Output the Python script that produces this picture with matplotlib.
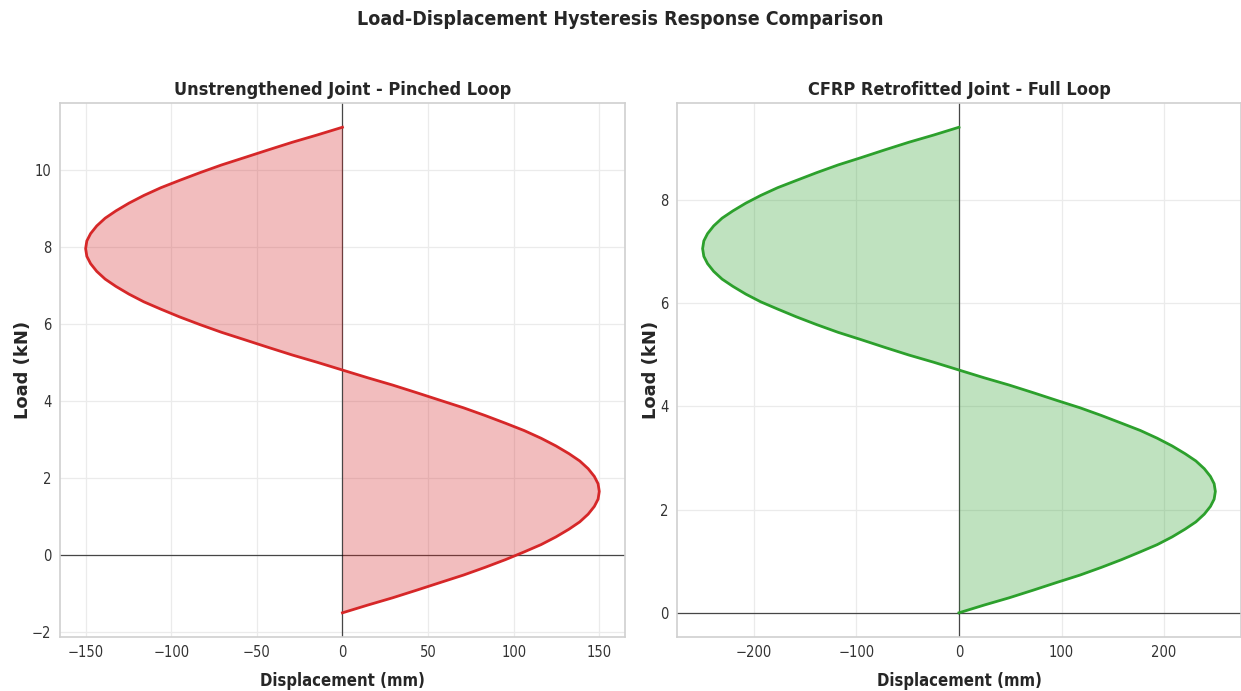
import matplotlib.pyplot as plt

# Unstrengthened joint: load (kN) vs displacement (mm)
load_unstr = [-1.50, -1.30, -1.11, -0.91, -0.71, -0.52, -0.32, -0.12,
              0.08, 0.27, 0.47, 0.67, 0.86, 1.06, 1.26, 1.45,
              1.65, 1.85, 2.04, 2.24, 2.44, 2.63, 2.83, 3.03,
              3.23, 3.42, 3.62, 3.82, 4.01, 4.21, 4.41, 4.60,
              4.80, 5.00, 5.19, 5.39, 5.59, 5.78, 5.98, 6.18,
              6.38, 6.57, 6.77, 6.97, 7.16, 7.36, 7.56, 7.75,
              7.95, 8.15, 8.34, 8.54, 8.74, 8.93, 9.13, 9.33,
              9.53, 9.72, 9.92, 10.12, 10.31, 10.51, 10.71, 10.90,
              11.10]
disp_unstr = [0, 14.7, 29.3, 43.5, 57.4, 70.7, 83.3, 95.2,
              106.1, 116.0, 124.7, 132.3, 138.6, 143.5, 147.1, 149.3,
              150.0, 149.3, 147.1, 143.5, 138.6, 132.3, 124.7, 116.0,
              106.1, 95.2, 83.3, 70.7, 57.4, 43.5, 29.3, 14.7,
              0, -14.7, -29.3, -43.5, -57.4, -70.7, -83.3, -95.2,
              -106.1, -116.0, -124.7, -132.3, -138.6, -143.5, -147.1, -149.3,
              -150.0, -149.3, -147.1, -143.5, -138.6, -132.3, -124.7, -116.0,
              -106.1, -95.2, -83.3, -70.7, -57.4, -43.5, -29.3, -14.7,
              0]

# CFRP retrofitted joint
load_cfrp = [0.00, 0.15, 0.29, 0.44, 0.59, 0.73, 0.88, 1.03,
             1.18, 1.32, 1.47, 1.62, 1.76, 1.91, 2.06, 2.20,
             2.35, 2.50, 2.64, 2.79, 2.94, 3.08, 3.23, 3.38,
             3.53, 3.67, 3.82, 3.97, 4.11, 4.26, 4.41, 4.55,
             4.70, 4.85, 4.99, 5.14, 5.29, 5.43, 5.58, 5.73,
             5.88, 6.02, 6.17, 6.32, 6.46, 6.61, 6.76, 6.90,
             7.05, 7.20, 7.34, 7.49, 7.64, 7.78, 7.93, 8.08,
             8.23, 8.37, 8.52, 8.67, 8.81, 8.96, 9.11, 9.25,
             9.40]
disp_cfrp = [0, 24.5, 48.8, 72.6, 95.7, 117.9, 138.9, 158.6,
             176.8, 193.3, 207.9, 220.5, 231.0, 239.2, 245.2, 248.8,
             250.0, 248.8, 245.2, 239.2, 231.0, 220.5, 207.9, 193.3,
             176.8, 158.6, 138.9, 117.9, 95.7, 72.6, 48.8, 24.5,
             0, -24.5, -48.8, -72.6, -95.7, -117.9, -138.9, -158.6,
             -176.8, -193.3, -207.9, -220.5, -231.0, -239.2, -245.2, -248.8,
             -250.0, -248.8, -245.2, -239.2, -231.0, -220.5, -207.9, -193.3,
             -176.8, -158.6, -138.9, -117.9, -95.7, -72.6, -48.8, -24.5,
             0]

titles = ['Unstrengthened Joint - Pinched Loop', 'CFRP Retrofitted Joint - Full Loop']
colors = ['#d62728', '#2ca02c']

plt.rcParams['font.family'] = ['DejaVu Sans']
plt.rcParams['font.stretch'] = 'condensed'

fig = plt.figure(figsize=(12.41, 6.91), dpi=100)
ax1 = fig.add_axes([0.0483, 0.078, 0.4553, 0.773])
ax2 = fig.add_axes([0.5455, 0.078, 0.4545, 0.773])

for ax, disp, load, title, c in zip([ax1, ax2], [disp_unstr, disp_cfrp],
                                    [load_unstr, load_cfrp], titles, colors):
    ax.plot(disp, load, color=c, lw=2, zorder=3)
    ax.fill_betweenx(load, 0, disp, color=c, alpha=0.3, lw=0, zorder=2)
    ax.axhline(0, color='black', lw=0.9, alpha=0.7, zorder=1)
    ax.axvline(0, color='black', lw=0.9, alpha=0.7, zorder=1)
    ax.grid(True, color='#ebebeb', lw=0.9, zorder=0)
    ax.set_axisbelow(True)
    for s in ax.spines.values():
        s.set_color('#d0d0d0')
        s.set_linewidth(1.2)
    ax.tick_params(length=0, labelsize=10.5, colors='#333333', pad=6)
    ax.set_title(title, fontsize=13, fontweight='bold', color='#262626', pad=6)
    ax.set_xlabel('Displacement (mm)', fontsize=12, fontweight='bold',
                  color='#262626', labelpad=8)
    ax.set_ylabel('Load (kN)', fontsize=13, fontweight='bold', color='#262626',
                  fontstretch='normal', labelpad=0)

fig.suptitle('Load-Displacement Hysteresis Response Comparison', fontsize=14,
             fontweight='bold', color='#262626', y=0.985)

fig.savefig('out.png', dpi=100)
